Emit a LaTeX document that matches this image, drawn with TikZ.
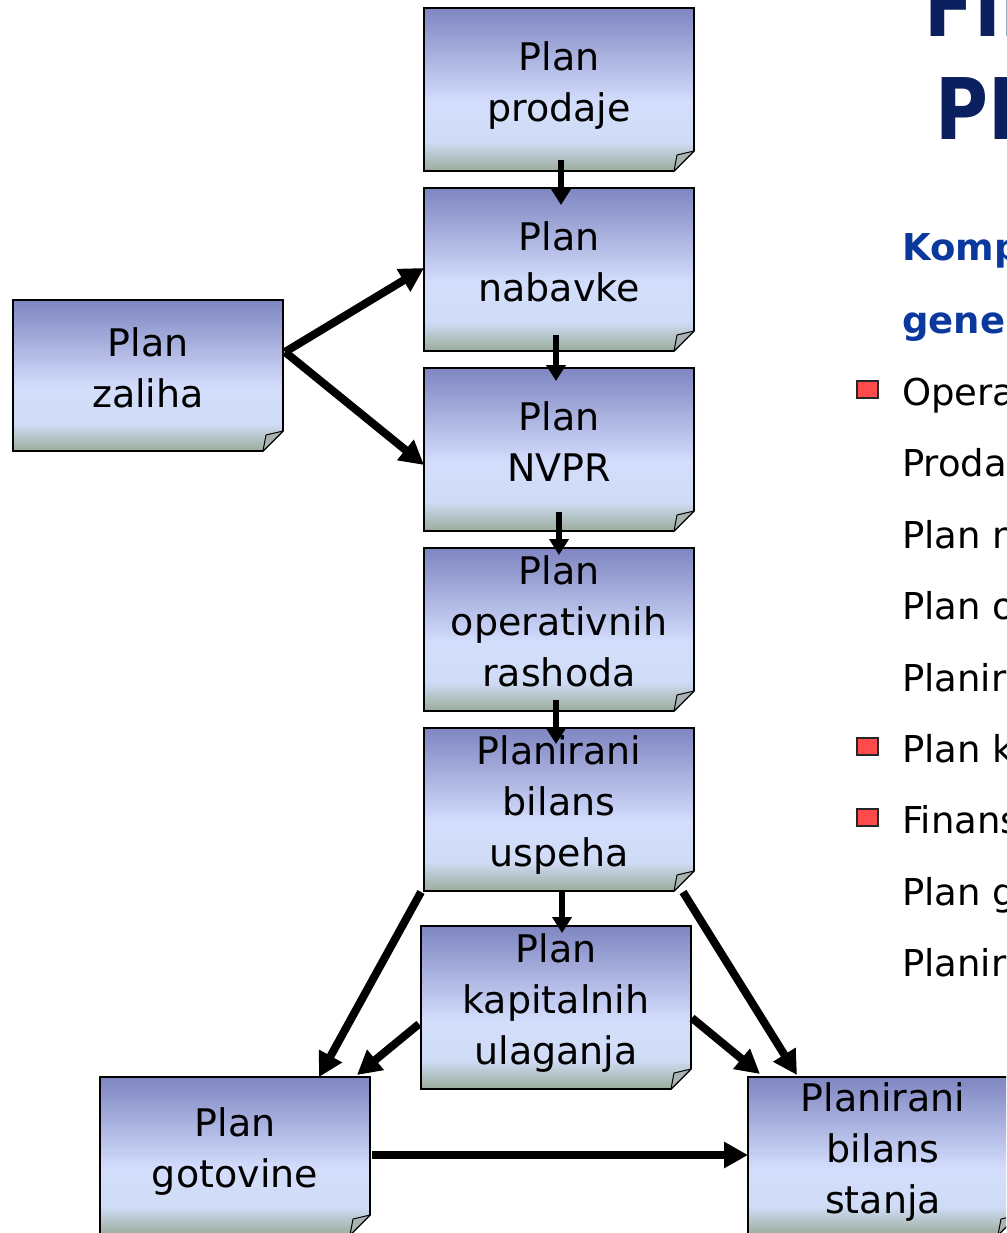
\documentclass[tikz,border=0pt]{standalone}
\usepackage{fontspec}
\setmainfont{DejaVu Sans}
\newfontfamily\titlefont{DejaVu Sans}[FakeStretch=0.85]
\usetikzlibrary{arrows.meta}

\definecolor{boxtop}{HTML}{7F85C1}
\definecolor{boxmid}{HTML}{D3DDFC}
\definecolor{boxlow}{HTML}{D0DCF6}
\definecolor{boxfoot}{HTML}{9AAC9A}
\definecolor{flapgrey}{HTML}{A9B4B2}
\definecolor{titlenavy}{HTML}{0B205E}
\definecolor{subblue}{HTML}{0A389C}
\definecolor{bulletred}{HTML}{FF4B4B}

% box fill: blue-violet at the top, pale blue body, grey-green foot
\pgfdeclareverticalshading{foldshade}{100bp}{%
  color(0bp)=(boxfoot); color(25bp)=(boxfoot); color(34bp)=(boxlow);
  color(46bp)=(boxmid); color(75bp)=(boxtop); color(100bp)=(boxtop)}

% line strut so every text line has the same height and depth
\newcommand\ls{\rule[-0.24em]{0pt}{1.01em}}

% note-paper box with a folded bottom-right corner
\newcommand\foldbox[1]{%
  \shadedraw[shading=foldshade, draw=black, line width=1.6pt]
    (#1.north west) -- (#1.north east) -- ([yshift=20pt]#1.south east)
    -- ([xshift=-20pt]#1.south east) -- (#1.south west) -- cycle;
  \filldraw[fill=flapgrey, draw=black, line width=1pt, line join=round]
    ([yshift=20pt]#1.south east) -- ([xshift=-20pt]#1.south east)
    -- ([xshift=-17pt,yshift=16pt]#1.south east) -- cycle;
}

\tikzset{
  boxnode/.style={rectangle, minimum width=270pt, minimum height=163pt,
    inner sep=0pt, outer sep=0pt},
  boxlabel/.style={align=center, inner sep=0pt,
    font=\fontsize{38}{51}\selectfont},
  varrow/.style={line width=6pt, -{Triangle[length=16pt,width=19pt]}},
  darrow/.style={line width=8pt, -{Triangle[length=24pt,width=25pt]}},
  listitem/.style={anchor=base west, inner sep=0pt,
    font=\fontsize{37}{44}\selectfont},
  subtitle/.style={anchor=base west, inner sep=0pt, text=subblue,
    font=\fontsize{37}{44}\selectfont\bfseries},
  titletext/.style={anchor=base west, inner sep=0pt, text=titlenavy,
    font=\titlefont\fontsize{85}{100}\selectfont\bfseries},
  bulletbox/.style={rectangle, minimum width=21pt, minimum height=17pt,
    inner sep=0pt, fill=bulletred, draw=black!85, line width=1.3pt}
}

\begin{document}
\begin{tikzpicture}[x=1pt, y=-1pt]
\useasboundingbox (0,0) rectangle (1006,1233);
\clip (0,0) rectangle (1006,1233);

% box frames
\node[boxnode] (prodaje)  at (559,89.5)   {};
\node[boxnode] (nabavke)  at (559,269.5)  {};
\node[boxnode] (nvpr)     at (559,449.5)  {};
\node[boxnode] (oper)     at (559,629.5)  {};
\node[boxnode] (uspeha)   at (559,809.5)  {};
\node[boxnode] (kapital)  at (556,1007.5) {};
\node[boxnode, minimum height=151pt] (zaliha)   at (148,375.5) {};
\node[boxnode, minimum height=158pt] (gotovine) at (235,1156)  {};
\node[boxnode, minimum height=158pt] (stanja)   at (883,1156)  {};

\foreach \b in {prodaje,nabavke,nvpr,oper,uspeha,kapital,zaliha,gotovine,stanja}
  {\foldbox{\b}}

% box texts
\node[boxlabel] (prodajeT)  at ([yshift=4pt]prodaje.center)  {\ls Plan\\\ls prodaje};
\node[boxlabel] (nabavkeT)  at ([yshift=4pt]nabavke.center)  {\ls Plan\\\ls nabavke};
\node[boxlabel] (nvprT)     at ([yshift=4pt]nvpr.center)     {\ls Plan\\\ls NVPR};
\node[boxlabel] (operT)     at ([yshift=4pt]oper.center)     {\ls Plan\\\ls operativnih\\\ls rashoda};
\node[boxlabel] (uspehaT)   at ([yshift=4pt]uspeha.center)   {\ls Planirani\\\ls bilans\\\ls uspeha};
\node[boxlabel] (kapitalT)  at ([yshift=4pt]kapital.center)  {\ls Plan\\\ls kapitalnih\\\ls ulaganja};
\node[boxlabel] (zalihaT)   at ([yshift=4pt]zaliha.center)   {\ls Plan\\\ls zaliha};
\node[boxlabel] (gotovineT) at ([yshift=4pt]gotovine.center) {\ls Plan\\\ls gotovine};
\node[boxlabel] (stanjaT)   at ([yshift=4pt]stanja.center)   {\ls Planirani\\\ls bilans\\\ls stanja};

% main chain
\draw[varrow] ([xshift=2pt,yshift=11pt]prodaje.south) -- ([xshift=2pt,yshift=-17pt]nabavke.north);
\draw[varrow] ([xshift=-3pt,yshift=16pt]nabavke.south) -- ([xshift=-3pt,yshift=-13pt]nvpr.north);
\draw[varrow] ([yshift=19pt]nvpr.south) -- ([yshift=-7pt]oper.north);
\draw[varrow] ([xshift=-3pt,yshift=11pt]oper.south) -- ([xshift=-3pt,yshift=-16pt]uspeha.north);
\draw[varrow] ([xshift=3pt,yshift=1pt]uspeha.south) -- ([xshift=6pt,yshift=-7pt]kapital.north);

% inventory plan feeds purchasing and NVPR
\draw[darrow] ([xshift=2pt,yshift=23.5pt]zaliha.east) -- ([yshift=1.5pt]nabavke.west);
\draw[darrow] ([xshift=2pt,yshift=23.5pt]zaliha.east) -- ([yshift=-15.5pt]nvpr.west);

% financial plans
\draw[darrow] ([xshift=-3pt,yshift=-1pt]uspeha.south west) -- ([xshift=-51pt]gotovine.north east);
\draw[darrow] ([xshift=-2pt,yshift=-16.5pt]kapital.west) -- ([xshift=-13pt,yshift=2pt]gotovine.north east);
\draw[darrow] ([xshift=1pt,yshift=-10.5pt]kapital.east) -- ([xshift=12pt,yshift=3pt]stanja.north west);
\draw[darrow] ([xshift=-11pt,yshift=-1pt]uspeha.south east) -- ([xshift=49pt,yshift=2pt]stanja.north west);
\draw[darrow] ([xshift=2pt,yshift=1pt]gotovine.east) -- ([yshift=1pt]stanja.west);

% heading and list on the right
\node[titletext] (title1) at (924.5,37) {FIN};
\node[titletext] (title2) at (935.5,140) {PL};
\node[subtitle] (sub1) at (902,260) {Komp};
\node[subtitle] (sub2) at (902,333) {gener};

\node[bulletbox] (b1) at (867.5,389.5) {};
\node[bulletbox] (b2) at (867.5,746.5) {};
\node[bulletbox] (b3) at (867.5,817.5) {};

\node[listitem] (i1) at (902,405)   {Opera};
\node[listitem] (i2) at (902,476.5) {Proda};
\node[listitem] (i3) at (902,548)   {Plan n};
\node[listitem] (i4) at (902,619)   {Plan o};
\node[listitem] (i5) at (902,691)   {Planir};
\node[listitem] (i6) at (902,762)   {Plan k};
\node[listitem] (i7) at (902,833)   {Finans};
\node[listitem] (i8) at (902,905)   {Plan g};
\node[listitem] (i9) at (902,976)   {Planir};
\end{tikzpicture}
\end{document}
